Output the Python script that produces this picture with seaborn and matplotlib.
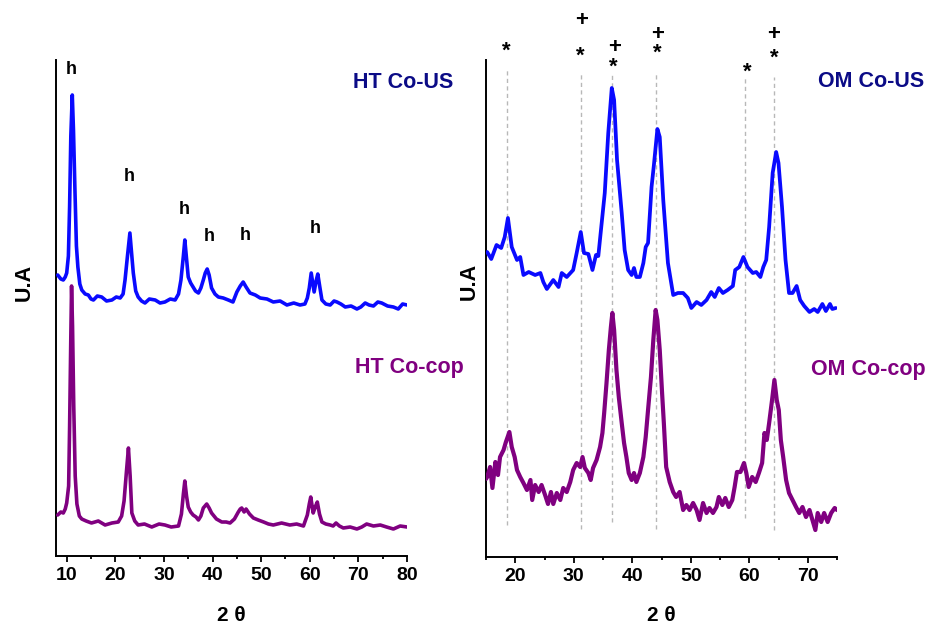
import matplotlib
matplotlib.use("Agg")
import matplotlib.pyplot as plt
import seaborn as sns
import pandas as pd

# ---------------- data ----------------
# Left panel: HT samples (2 theta, intensity a.u.)
ht_us_x = [8.15, 8.8, 9.3, 9.7, 10.0, 10.35, 10.6, 10.85, 11.15, 11.4, 11.7, 12.0, 12.3,
           12.7, 13.1, 13.8, 14.45, 15.0, 15.5, 16.3, 17.2, 18.2, 19.3, 20.2, 21.0, 21.6,
           22.0, 22.5, 23.0, 23.4, 23.7, 24.2, 24.7, 25.4, 26.1, 27.0, 28.2, 29.2, 30.2,
           31.3, 32.3, 33.0, 33.5, 34.0, 34.3, 34.6, 35.0, 35.5, 36.0, 36.5, 37.1, 37.6,
           38.1, 38.5, 38.9, 39.3, 39.8, 40.5, 41.2, 42.2, 43.25, 44.2, 45.0, 45.7, 46.3,
           46.9, 47.7, 48.8, 49.8, 51.2, 52.5, 53.9, 55.3, 56.7, 58.0, 59.0, 59.5, 59.9,
           60.3, 60.9, 61.3, 61.65, 62.1, 62.5, 63.3, 64.2, 65.0, 65.6, 66.4, 67.3, 68.5,
           69.7, 70.5, 71.4, 72.2, 73.1, 74.0, 74.8, 76.0, 77.2, 78.2, 79.1, 80.0]
ht_us_y = [281, 277, 276, 279, 283, 300, 350, 420, 461, 425, 365, 310, 289,
           272, 266, 262, 261, 257, 256, 260, 259, 255, 256, 259, 258, 262,
           276, 300, 323, 300, 283, 265, 259, 255, 253, 257, 256, 253, 254,
           257, 256, 262, 276, 300, 316, 300, 279, 273, 269, 265, 263, 268,
           276, 283, 287, 281, 268, 262, 259, 258, 256, 254, 264, 270, 274,
           269, 263, 261, 258, 257, 254, 255, 251, 253, 251, 252, 258, 268,
           283, 264, 275, 282, 268, 256, 252, 251, 255, 254, 252, 249, 250,
           247, 249, 253, 251, 250, 254, 253, 250, 249, 247, 252, 251]

ht_cop_x = [8.15, 8.8, 9.3, 9.7, 10.0, 10.4, 10.6, 10.85, 11.0, 11.2, 11.45, 11.75, 12.1,
            12.6, 13.1, 14.0, 15.1, 16.5, 17.9, 19.3, 20.6, 21.3, 21.8, 22.3, 22.7, 23.05,
            23.4, 24.0, 24.7, 26.0, 27.5, 29.0, 30.2, 31.5, 33.0, 33.6, 34.0, 34.3, 34.65,
            35.0, 35.5, 36.0, 36.6, 37.1, 37.6, 38.1, 38.8, 39.3, 39.8, 40.8, 41.9, 42.8,
            43.6, 44.5, 45.3, 45.7, 46.0, 46.5, 46.9, 47.6, 48.4, 49.4, 50.5, 51.5, 52.5,
            54.2, 55.9, 57.3, 58.7, 59.5, 59.9, 60.2, 60.7, 61.2, 61.55, 62.0, 62.5, 63.3,
            64.2, 64.8, 65.4, 66.1, 66.9, 68.3, 69.7, 70.7, 71.7, 73.1, 74.5, 75.8, 77.2,
            78.6, 80.0]
ht_cop_y = [41, 44, 43, 47, 53, 70, 130, 220, 270, 230, 150, 80, 52,
            40, 37, 35, 33, 35, 31, 33, 34, 40, 55, 85, 108, 80,
            43, 35, 31, 32, 29, 32, 31, 29, 30, 42, 62, 75, 60,
            49, 44, 41, 39, 36, 40, 48, 52, 48, 43, 37, 34, 34,
            33, 37, 44, 47, 48, 44, 47, 42, 38, 36, 34, 32, 31,
            33, 31, 32, 30, 41, 52, 59, 43, 50, 54, 42, 34, 32,
            31, 30, 33, 30, 28, 29, 27, 29, 32, 30, 31, 29, 27,
            30, 29]

# Right panel: OM samples
om_us_x = [15.2, 15.9, 16.8, 17.6, 18.2, 18.75, 19.4, 20.3, 20.85, 21.4, 22.3, 23.4, 24.3,
           24.8, 25.4, 26.5, 27.4, 27.95, 28.8, 29.9, 30.5, 31.2, 31.75, 32.5, 33.2, 33.8,
           34.2, 34.6, 35.3, 35.9, 36.5, 36.9, 37.4, 38.2, 38.7, 39.3, 39.9, 40.3, 40.7,
           41.3, 41.9, 42.3, 42.7, 43.3, 43.7, 44.3, 44.7, 45.3, 46.1, 47.0, 47.8, 48.7,
           49.5, 50.1, 51.0, 51.8, 52.7, 53.5, 54.1, 54.8, 55.5, 56.3, 57.2, 57.6, 58.3,
           59.0, 59.7, 60.6, 61.2, 61.9, 62.4, 62.9, 63.4, 64.0, 64.6, 65.0, 65.6, 66.2,
           66.8, 67.4, 68.1, 68.7, 69.4, 70.3, 71.1, 71.7, 72.5, 73.1, 73.8, 74.2, 74.8]
om_us_y = [305, 298, 312, 309, 320, 339, 310, 297, 300, 282, 285, 282, 284,
           275, 268, 277, 270, 284, 280, 287, 304, 325, 304, 303, 287, 302,
           301, 324, 364, 424, 469, 457, 397, 344, 307, 287, 282, 289, 280,
           280, 294, 310, 314, 370, 392, 428, 420, 357, 294, 262, 264, 264,
           259, 249, 255, 252, 257, 265, 260, 269, 264, 267, 271, 287, 290,
           300, 290, 284, 285, 280, 290, 297, 330, 384, 405, 394, 350, 297,
           264, 264, 271, 257, 251, 245, 248, 245, 253, 246, 253, 248, 249]

om_cop_x = [15.0, 15.2, 15.7, 16.1, 16.6, 17.05, 17.4, 18.0, 18.4, 19.0, 19.4, 19.9, 20.3,
            20.85, 21.4, 22.0, 22.6, 22.9, 23.4, 24.0, 24.5, 25.1, 25.6, 26.1, 26.5, 27.1,
            27.7, 28.2, 28.8, 29.4, 29.9, 30.5, 31.1, 31.5, 31.9, 32.5, 32.9, 33.3, 33.9,
            34.5, 34.9, 35.2, 35.6, 36.0, 36.35, 36.6, 36.9, 37.3, 37.7, 38.2, 38.6, 39.0,
            39.4, 39.9, 40.3, 40.7, 41.3, 41.9, 42.3, 42.7, 43.2, 43.6, 44.0, 44.3, 44.7,
            45.1, 45.4, 45.8, 46.4, 47.0, 47.5, 48.1, 48.7, 49.25, 49.8, 50.4, 51.0, 51.5,
            52.1, 52.7, 53.2, 53.8, 54.4, 54.8, 55.4, 55.9, 56.5, 57.1, 57.5, 57.9, 58.5,
            59.1, 59.5, 59.9, 60.5, 61.1, 61.65, 62.2, 62.6, 63.0, 63.4, 63.9, 64.3, 64.7,
            65.05, 65.4, 65.8, 66.3, 66.8, 67.4, 68.0, 68.55, 69.1, 69.7, 70.3, 70.8, 71.3,
            71.7, 72.3, 72.8, 73.4, 74.0, 74.6, 75.0]
om_cop_y = [78, 80, 90, 69, 95, 82, 100, 107, 115, 125, 110, 100, 87,
            80, 74, 67, 77, 57, 72, 65, 72, 62, 53, 65, 53, 64,
            57, 69, 65, 75, 87, 94, 90, 100, 89, 84, 77, 89, 97,
            110, 124, 144, 174, 207, 230, 244, 227, 187, 160, 134, 114, 100,
            84, 77, 84, 75, 84, 100, 120, 147, 180, 217, 247, 237, 207,
            164, 134, 90, 75, 65, 60, 65, 47, 52, 47, 54, 47, 37,
            54, 44, 49, 44, 50, 60, 52, 59, 50, 57, 70, 85, 85,
            94, 84, 70, 80, 75, 84, 94, 124, 117, 134, 157, 177, 157,
            147, 117, 100, 77, 64, 57, 50, 44, 50, 40, 47, 37, 27,
            44, 35, 44, 35, 44, 49, 47]

# Phase markers (right panel) and reflection labels (left panel)
ref_lines_x = [18.6, 31.2, 36.5, 44.0, 59.2, 64.3]
ref_lines_top = [487, 483, 483, 483, 479, 480]
ref_lines_bottom = [32, 28, 35, 28, 39, 27]
star_x = [18.5, 31.2, 36.75, 44.35, 59.6, 64.3]
star_y = [500, 495, 484, 498, 479, 493]
plus_x = [31.3, 36.9, 44.3, 64.1]
plus_y = [531, 504, 517, 517]
h_x = [10.9, 22.8, 34.1, 39.3, 46.7, 61.1]
h_y = [482, 375, 342, 315, 316, 323]

left_ticks = [10, 20, 30, 40, 50, 60, 70, 80]
left_minor = [15, 25, 35, 45, 55, 65, 75]
right_ticks = [20, 30, 40, 50, 60, 70]
right_minor = [15, 25, 35, 45, 55, 65, 75]

# ---------------- style ----------------
sns.set_theme(style="white")
plt.rcParams["font.family"] = ["Liberation Sans", "DejaVu Sans"]
plt.rcParams["font.weight"] = "bold"
plt.rcParams["text.color"] = "black"
plt.rcParams["axes.labelcolor"] = "black"
plt.rcParams["xtick.color"] = "black"
plt.rcParams["xtick.labelcolor"] = "black"

BLUE = "#0a0aff"
PURPLE = "#800080"
NAVY = "#0b0b86"

fig = plt.figure(figsize=(9.27, 6.25), dpi=100)
ax1 = fig.add_axes([56 / 927, 69 / 625, 351 / 927, 496 / 625])
ax2 = fig.add_axes([486 / 927, 68 / 625, 351 / 927, 497 / 625])

df_l1 = pd.DataFrame({"x": ht_us_x, "y": ht_us_y})
df_l2 = pd.DataFrame({"x": ht_cop_x, "y": ht_cop_y})
df_r1 = pd.DataFrame({"x": om_us_x, "y": om_us_y})
df_r2 = pd.DataFrame({"x": om_cop_x, "y": om_cop_y})

# dashed reference lines behind curves
ax2.vlines(ref_lines_x, ref_lines_bottom, ref_lines_top, colors="#b8b8b8",
           linewidth=1.0, linestyles=(0, (3, 2.4)), zorder=1)

sns.lineplot(data=df_l1, x="x", y="y", ax=ax1, color=BLUE, linewidth=2.6,
             sort=False, estimator=None, zorder=3)
sns.lineplot(data=df_l2, x="x", y="y", ax=ax1, color=PURPLE, linewidth=2.6,
             sort=False, estimator=None, zorder=3)
sns.lineplot(data=df_r1, x="x", y="y", ax=ax2, color=BLUE, linewidth=2.7,
             sort=False, estimator=None, zorder=3)
sns.lineplot(data=df_r2, x="x", y="y", ax=ax2, color=PURPLE, linewidth=3.0,
             sort=False, estimator=None, zorder=3)

for ax, xl, yl, ticks, minor in [(ax1, (7.8, 80), (0, 496), left_ticks, left_minor),
                                  (ax2, (15, 75), (0, 497), right_ticks, right_minor)]:
    ax.set_xticks(ticks)
    ax.set_xticks(minor, minor=True)
    ax.set_yticks([])
    ax.set_xlim(*xl)
    ax.set_ylim(*yl)
    for s in ["top", "right"]:
        ax.spines[s].set_visible(False)
    for s in ["left", "bottom"]:
        ax.spines[s].set_color("black")
        ax.spines[s].set_linewidth(1.4)
    ax.tick_params(axis="x", which="major", direction="out", length=4, width=1.3,
                   color="black", labelcolor="black", pad=4, labelsize=14, bottom=True)
    ax.tick_params(axis="x", which="minor", direction="out", length=2.5, width=1.3,
                   color="black", bottom=True)
    for lab in ax.get_xticklabels():
        lab.set_fontweight("bold")
    ax.set_xlabel("2 θ", fontsize=15, fontweight="bold", color="black")
    ax.set_ylabel("U.A", fontsize=15.5, fontweight="bold", color="black")
    ax.set_facecolor("white")

ax1.xaxis.set_label_coords(0.5, -0.101)
ax2.xaxis.set_label_coords(0.5, -0.099)
ax1.yaxis.set_label_coords(-0.061, 0.552)
ax2.yaxis.set_label_coords(-0.019, 0.555)

# reflection labels
for x, y in zip(h_x, h_y):
    ax1.text(x, y, "h", fontsize=13, fontweight="bold", ha="center", va="baseline",
             color="black")
for x, y in zip(star_x, star_y):
    ax2.text(x, y, "*", fontsize=16, fontweight="bold", ha="center", va="baseline",
             color="black", clip_on=False)
for x, y in zip(plus_x, plus_y):
    ax2.text(x, y, "+", fontsize=16, fontweight="bold", ha="center", va="baseline",
             color="black", clip_on=False)

# sample labels
ax1.text(0.846, 0.943, "HT Co-US", transform=ax1.transAxes, fontsize=15.5,
         fontweight="bold", color=NAVY, ha="left", va="baseline")
ax1.text(0.852, 0.3696, "HT Co-cop", transform=ax1.transAxes, fontsize=15.5,
         fontweight="bold", color=PURPLE, ha="left", va="baseline")
ax2.text(0.946, 0.945, "OM Co-US", transform=ax2.transAxes, fontsize=15.5,
         fontweight="bold", color=NAVY, ha="left", va="baseline", clip_on=False)
ax2.text(0.925, 0.366, "OM Co-cop", transform=ax2.transAxes, fontsize=15.5,
         fontweight="bold", color=PURPLE, ha="left", va="baseline", clip_on=False)

fig.savefig("out.png", dpi=100, facecolor="white")
